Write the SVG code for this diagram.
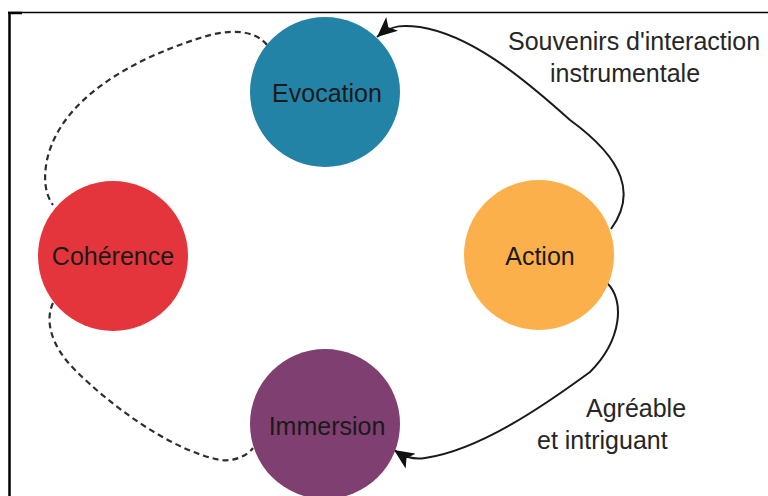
<svg xmlns="http://www.w3.org/2000/svg" width="768" height="496" viewBox="0 0 768 496">
<style>
.node-label{font-family:"Liberation Sans",Arial,sans-serif;font-size:25px;fill:#1a1a1a;text-anchor:middle}
.edge-label{font-family:"Liberation Sans",Arial,sans-serif;font-size:25px;fill:#262626}
.solid{fill:none;stroke:#1a1a1a;stroke-width:2}
.dashed{fill:none;stroke:#2e2e2e;stroke-width:2.2;stroke-dasharray:6 4}
.frame{stroke:#000;fill:none}
</style>
<defs>
<marker id="arrow" markerUnits="userSpaceOnUse" markerWidth="22" markerHeight="18" refX="20" refY="9" orient="auto">
<path d="M0,0 L20,9 L0,18 L5,9 z" fill="#111"/>
</marker>
</defs>
<rect width="768" height="496" fill="#fff"/>
<g id="frame">
<line class="frame" x1="8" y1="12.5" x2="768" y2="12.5" stroke-width="1.6"/>
<line class="frame" x1="9.5" y1="12" x2="9.5" y2="496" stroke-width="2.5"/>
<line class="frame" x1="8" y1="13" x2="22" y2="13" stroke-width="2.5"/>
</g>
<g id="connectors">
<path class="solid" d="M611 229 C636 195,625 160,570 120 C520 75,470 35,420 27 C405 25,392 24,377 37" marker-end="url(#arrow)"/>
<path class="solid" d="M607 283 C625 300,622 340,590 372 C545 405,480 450,425 458 C412 460,403 456,394 450" marker-end="url(#arrow)"/>
<path class="dashed" d="M267 45 C255 30,230 28,200 38 C130 60,60 100,47 160 C42 185,48 198,53 205"/>
<path class="dashed" d="M53 303 C45 320,50 345,75 370 C110 405,170 450,220 460 C235 462,248 455,253 448"/>
</g>
<g id="evocation">
<circle cx="325" cy="92" r="75" fill="#2383a6"/>
<text class="node-label" x="327" y="102">Evocation</text>
</g>
<g id="action">
<circle cx="539" cy="255" r="75" fill="#fbb04b"/>
<text class="node-label" x="540" y="265">Action</text>
</g>
<g id="coherence">
<circle cx="113" cy="256" r="75" fill="#e3353b"/>
<text class="node-label" x="113" y="265">Cohérence</text>
</g>
<g id="immersion">
<circle cx="325" cy="424" r="75" fill="#7f3f71"/>
<text class="node-label" x="327" y="435">Immersion</text>
</g>
<g id="edge-labels">
<text class="edge-label" x="508" y="50">Souvenirs d'interaction</text>
<text class="edge-label" x="550" y="82">instrumentale</text>
<text class="edge-label" x="586" y="417">Agréable</text>
<text class="edge-label" x="537" y="449">et intriguant</text>
</g>
</svg>
